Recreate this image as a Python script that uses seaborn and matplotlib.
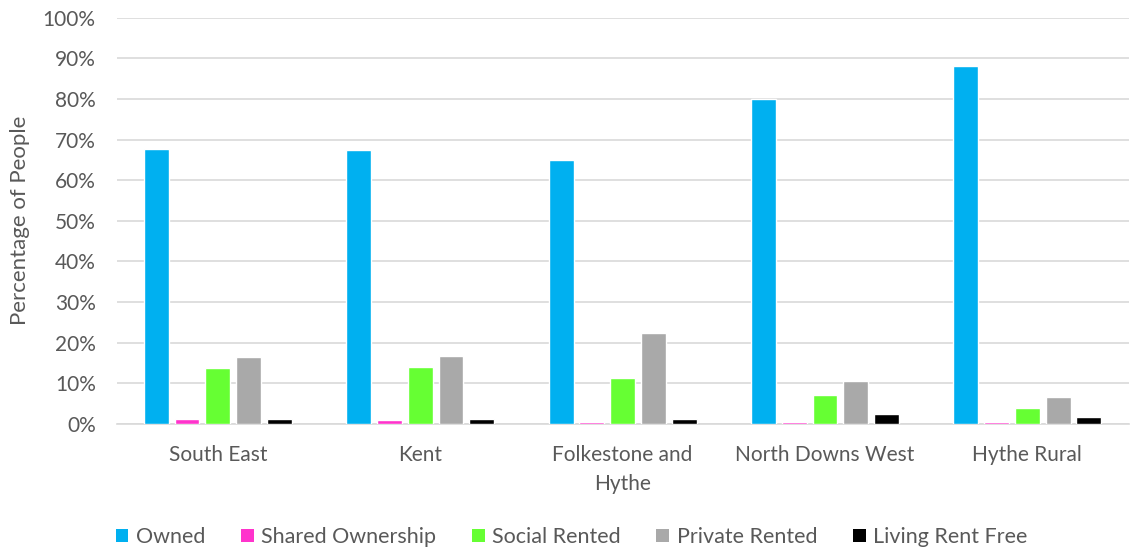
import matplotlib
matplotlib.use("Agg")
import matplotlib.pyplot as plt
import seaborn as sns
import pandas as pd
from matplotlib.ticker import FuncFormatter
from matplotlib.patches import Patch

categories = ["South East", "Kent", "Folkestone and\nHythe", "North Downs West", "Hythe Rural"]
series = ["Owned", "Shared Ownership", "Social Rented", "Private Rented", "Living Rent Free"]
owned = [67.6, 67.4, 64.9, 79.9, 88.0]
shared = [1.1, 0.9, 0.4, 0.4, 0.4]
social = [13.7, 14.0, 11.3, 7.1, 3.9]
private = [16.5, 16.8, 22.4, 10.5, 6.6]
rent_free = [1.3, 1.3, 1.3, 2.4, 1.8]
colors = ["#00B0F0", "#FF33CC", "#66FF33", "#A9A9A9", "#000000"]

values = [owned, shared, social, private, rent_free]
rows = []
for s, vals in zip(series, values):
    for c, v in zip(categories, vals):
        rows.append({"Area": c, "Tenure": s, "Value": v})
df = pd.DataFrame(rows)

sns.set_theme(style="white")
plt.rcParams["font.family"] = ["Lato", "DejaVu Sans"]

fig = plt.figure(figsize=(11.32, 5.52), dpi=100)
ax = fig.add_axes([0.103, 0.232, 0.894, 0.736])

sns.barplot(data=df, x="Area", y="Value", hue="Tenure", order=categories,
            hue_order=series, palette=colors, width=0.76, gap=0.19,
            saturation=1, ax=ax, legend=False, errorbar=None)

ax.set_ylim(0, 100)
ax.set_yticks(range(0, 101, 10))
ax.yaxis.set_major_formatter(FuncFormatter(lambda v, p: f"{int(v)}%"))
ax.grid(axis="y", color="#D9D9D9", linewidth=1.2)
ax.set_axisbelow(True)
for sp in ["top", "right", "left"]:
    ax.spines[sp].set_visible(False)
ax.spines["bottom"].set_color("#D9D9D9")
ax.spines["bottom"].set_linewidth(1.2)
ax.spines["bottom"].set_zorder(0.5)
ax.tick_params(axis="both", length=0, labelsize=15, colors="#595959")
ax.tick_params(axis="y", pad=15)
ax.tick_params(axis="x", pad=15)
for t in ax.get_xticklabels():
    t.set_linespacing(1.55)
ax.set_xlabel("")
ax.set_ylabel("Percentage of People", fontsize=16, color="#595959", labelpad=9)

handles = [Patch(facecolor=c, edgecolor="none") for c in colors]
fig.legend(handles, series, loc="center", bbox_to_anchor=(0.505, 0.027), ncol=5,
           frameon=False, fontsize=15.5, handlelength=0.6, handleheight=0.6,
           handletextpad=0.35, columnspacing=1.65, labelcolor="#595959")

fig.savefig("out.png", dpi=100)
